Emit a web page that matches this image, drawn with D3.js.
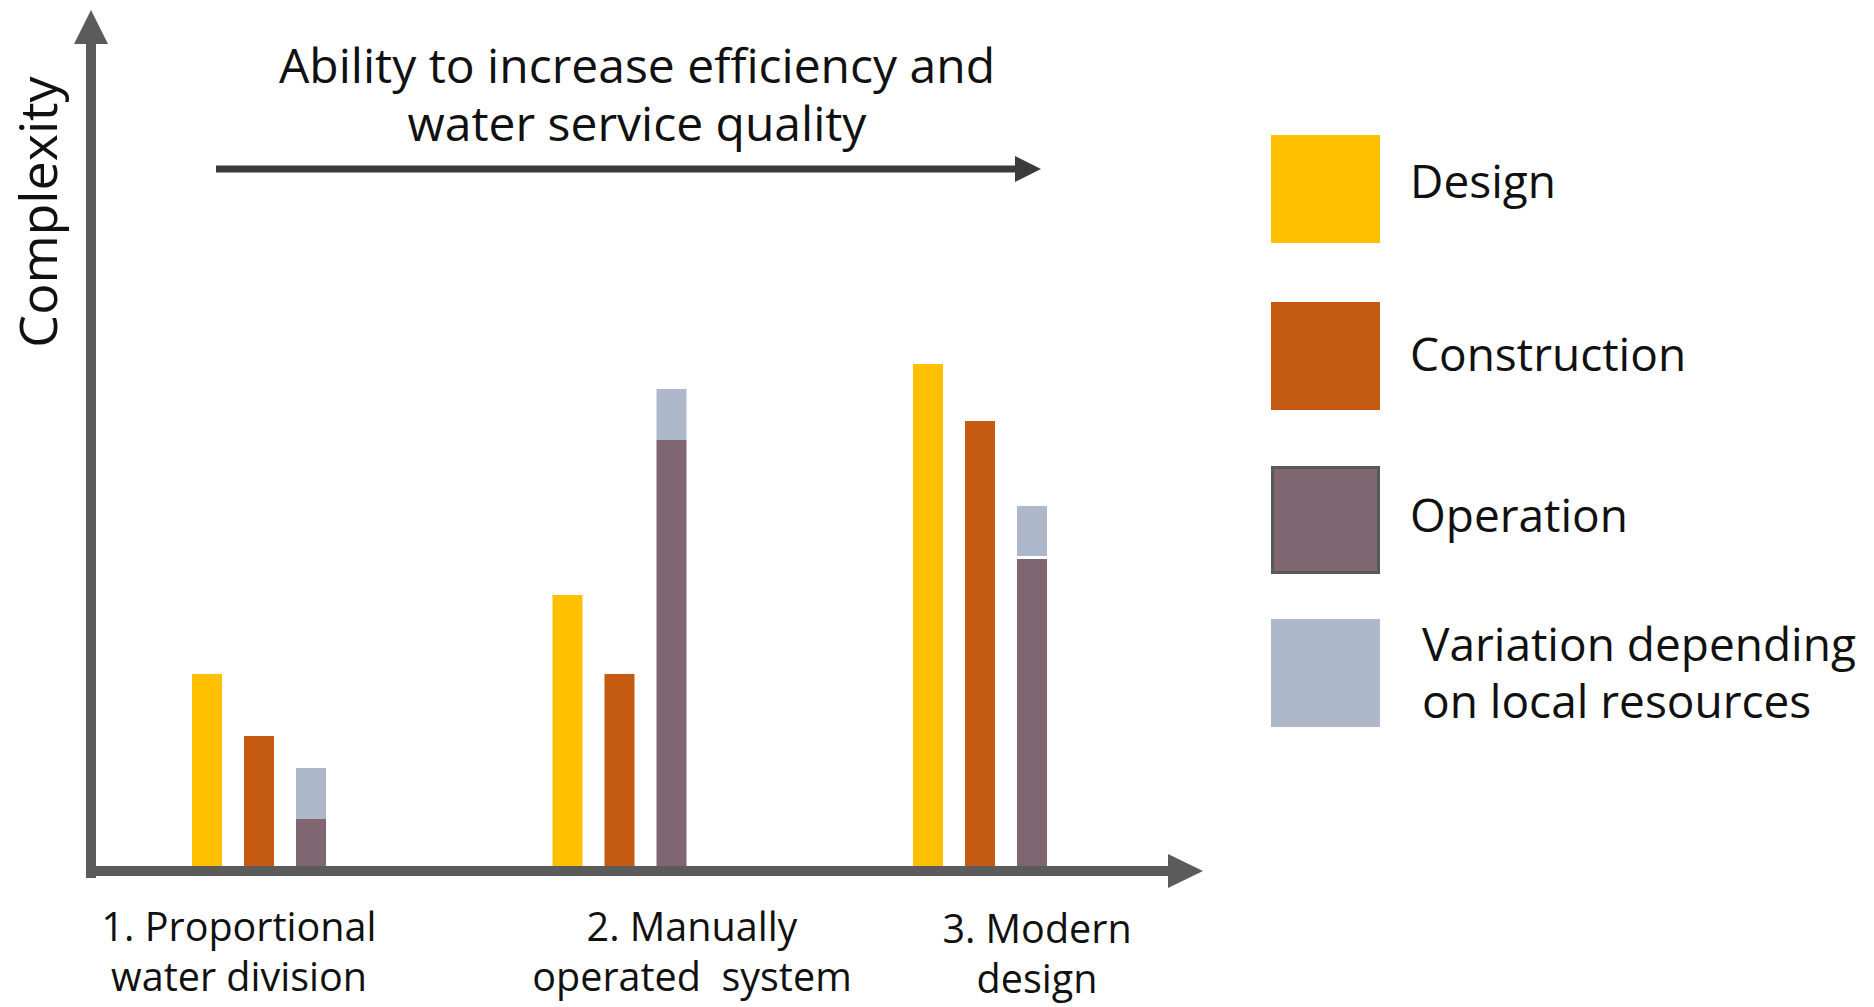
<!DOCTYPE html>
<html>
<head>
<meta charset="utf-8">
<script src="https://cdn.jsdelivr.net/npm/d3@7"></script>
<style>
  html, body { margin: 0; padding: 0; background: #ffffff; }
  svg { display: block; font-family: "Open Sans", "Noto Sans", sans-serif; }
</style>
</head>
<body>
<svg id="chart" width="1874" height="1007"></svg>
<script>
// ---------------- DATA ----------------
const categories = ["1. Proportional water division", "2. Manually operated system", "3. Modern design"];
const categoryLines = [["1. Proportional", "water division"], ["2. Manually", "operated  system"], ["3. Modern", "design"]];
const series = ["Design", "Construction", "Operation"];
const designValues = [192, 271, 502];
const constructionValues = [130, 192, 445];
const operationValues = [47, 426, 307];
// variation depending on local resources: range on top of operation
const variationLow = [47, 426, 310];
const variationHigh = [98, 477, 360];
const legendLabels = [["Design"], ["Construction"], ["Operation"], ["Variation depending", "on local resources"]];
const titleLines = ["Ability to increase efficiency and", "water service quality"];
const yAxisTitle = "Complexity";

// ---------------- STYLE ----------------
const colors = { Design: "#FFC000", Construction: "#C55A11", Operation: "#7F6670", Variation: "#ADB9CA" };
const axisColor = "#5b5b5b";

const svg = d3.select("#chart");

// ---------------- SCALES ----------------
const baseY = 866, topY = 66;
const y = d3.scaleLinear().domain([0, 800]).range([baseY, topY]);
const x0 = d3.scalePoint().domain(categories).range([192, 913]);
const x1 = d3.scaleBand().domain(series).range([0, 134]).paddingInner(22 / 52).paddingOuter(0);

const valuesBySeries = { Design: designValues, Construction: constructionValues, Operation: operationValues };

// ---------------- BARS ----------------
const rows = [];
categories.forEach((c, i) => {
  series.forEach(s => rows.push({ cat: c, s, v: valuesBySeries[s][i] }));
});

svg.append("g").selectAll("rect.bar").data(rows).join("rect")
  .attr("class", "bar")
  .attr("x", d => x0(d.cat) + x1(d.s))
  .attr("width", x1.bandwidth())
  .attr("y", d => y(d.v))
  .attr("height", d => y(0) - y(d.v))
  .attr("fill", d => colors[d.s]);

svg.append("g").selectAll("rect.var").data(categories).join("rect")
  .attr("class", "var")
  .attr("x", d => x0(d) + x1("Operation"))
  .attr("width", x1.bandwidth())
  .attr("y", (d, i) => y(variationHigh[i]))
  .attr("height", (d, i) => y(variationLow[i]) - y(variationHigh[i]))
  .attr("fill", colors.Variation);

// ---------------- AXES (arrows) ----------------
const axX = 91, axY = 871;
const axes = svg.append("g");
// y axis
axes.append("line").attr("x1", axX).attr("x2", axX).attr("y1", 878).attr("y2", 40)
  .attr("stroke", axisColor).attr("stroke-width", 10);
axes.append("path")
  .attr("d", `M${axX},10 L${axX + 17},44 L${axX - 17},44 Z`)
  .attr("fill", axisColor);
// x axis
axes.append("line").attr("x1", axX - 5).attr("x2", 1172).attr("y1", axY).attr("y2", axY)
  .attr("stroke", axisColor).attr("stroke-width", 10);
axes.append("path")
  .attr("d", `M1203,${axY} L1168,${axY - 17} L1168,${axY + 17} Z`)
  .attr("fill", axisColor);

// ---------------- CATEGORY LABELS ----------------
const labelCenters = [239, 692, 1037];
const labelDy = [0, 0, 2];
const catG = svg.append("g");
categoryLines.forEach((lines, i) => {
  const t = catG.append("text")
    .attr("text-anchor", "middle")
    .attr("font-size", 39.5)
    .attr("fill", "#111")
    .style("white-space", "pre");
  lines.forEach((ln, j) => {
    t.append("tspan").attr("x", labelCenters[i]).attr("y", 941 + labelDy[i] + j * 50).text(ln);
  });
});

// ---------------- TITLE + ARROW ----------------
const title = svg.append("text").attr("text-anchor", "middle").attr("font-size", 48).attr("fill", "#111");
titleLines.forEach((ln, j) => {
  title.append("tspan").attr("x", 637).attr("y", 83 + j * 58).text(ln);
});
svg.append("line").attr("x1", 216).attr("x2", 1020).attr("y1", 169).attr("y2", 169)
  .attr("stroke", "#3b3b3b").attr("stroke-width", 7);
svg.append("path").attr("d", "M1041,169 L1015,156 L1015,182 Z").attr("fill", "#3b3b3b");

// ---------------- Y AXIS TITLE ----------------
svg.append("text")
  .attr("transform", "translate(57,212) rotate(-90)")
  .attr("text-anchor", "middle")
  .attr("font-size", 52)
  .attr("fill", "#111")
  .text(yAxisTitle);

// ---------------- LEGEND ----------------
const legendKeys = ["Design", "Construction", "Operation", "Variation"];
const legendTops = [135, 302, 466, 619];
const legendTextX = [1410, 1410, 1410, 1422];
const legendBaselines = [198, 371, 532, 661];
const leg = svg.append("g");
legendKeys.forEach((k, i) => {
  const r = leg.append("rect")
    .attr("x", 1271).attr("y", legendTops[i])
    .attr("width", 109).attr("height", 108)
    .attr("fill", colors[k]);
  if (k === "Operation") {
    r.attr("x", 1272.5).attr("y", legendTops[i] + 1.5).attr("width", 106).attr("height", 105)
      .attr("stroke", "#595959").attr("stroke-width", 3);
  }
  const t = leg.append("text").attr("font-size", 46).attr("fill", "#111");
  legendLabels[i].forEach((ln, j) => {
    t.append("tspan").attr("x", legendTextX[i]).attr("y", legendBaselines[i] + j * 57).text(ln);
  });
});
</script>
</body>
</html>
